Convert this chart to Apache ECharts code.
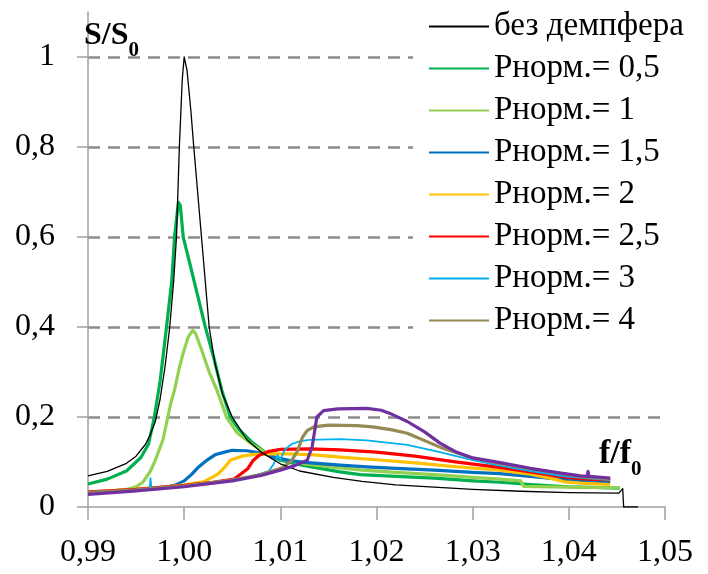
<!DOCTYPE html>
<html>
<head>
<meta charset="utf-8">
<script src="https://cdn.jsdelivr.net/npm/echarts@6/dist/echarts.min.js"></script>
<style>
html,body{margin:0;padding:0;background:#fff;}
#chart{width:708px;height:574px;}
</style>
</head>
<body>
<div id="chart"></div>
<script>
// ---- data ----
const xTicks = [0.99, 1.00, 1.01, 1.02, 1.03, 1.04, 1.05];
const xTickLabels = ['0,99', '1,00', '1,01', '1,02', '1,03', '1,04', '1,05'];
const yTicks = [0, 0.2, 0.4, 0.6, 0.8, 1];
const yTickLabels = ['0', '0,2', '0,4', '0,6', '0,8', '1'];

const seriesNames = ['без демпфера', 'Рнорм.= 0,5', 'Рнорм.= 1', 'Рнорм.= 1,5', 'Рнорм.= 2', 'Рнорм.= 2,5', 'Рнорм.= 3', 'Рнорм.= 4', 'Рнорм.= 5'];

const noDamper = [[0.990,0.069],[0.992,0.079],[0.994,0.097],[0.995,0.113],[0.996,0.14],[0.9965,0.162],[0.997,0.19],[0.9975,0.24],[0.998,0.31],[0.9985,0.40],[0.9989,0.50],[0.9992,0.60],[0.9995,0.80],[0.9998,0.95],[1.0000,1.0],[1.0003,0.97],[1.0007,0.88],[1.0010,0.80],[1.0014,0.70],[1.0018,0.60],[1.0022,0.50],[1.0026,0.40],[1.0032,0.32],[1.004,0.25],[1.005,0.20],[1.0065,0.15],[1.008,0.122],[1.010,0.096],[1.012,0.08],[1.0155,0.066],[1.0185,0.057],[1.022,0.049],[1.026,0.044],[1.030,0.039],[1.035,0.035],[1.040,0.032],[1.0452,0.031],[1.0456,0.041],[1.0457,0.0],[1.0472,0.0]];

const p05 = [[0.990,0.051],[0.992,0.062],[0.994,0.08],[0.9955,0.11],[0.9963,0.14],[0.9969,0.2],[0.9975,0.28],[0.998,0.37],[0.9987,0.50],[0.9990,0.60],[0.9994,0.677],[0.9996,0.67],[0.9999,0.60],[1.0006,0.54],[1.0014,0.47],[1.0022,0.40],[1.0031,0.33],[1.0039,0.26],[1.0048,0.20],[1.0058,0.17],[1.007,0.145],[1.0085,0.12],[1.010,0.104],[1.0125,0.092],[1.0162,0.078],[1.0183,0.072],[1.022,0.068],[1.026,0.064],[1.030,0.058],[1.0328,0.055],[1.036,0.05],[1.040,0.045],[1.0453,0.042]];

const p1 = [[0.990,0.033],[0.992,0.035],[0.994,0.039],[0.995,0.045],[0.9957,0.055],[0.9965,0.08],[0.997,0.104],[0.9978,0.15],[0.9982,0.19],[0.9986,0.23],[0.9990,0.26],[0.9995,0.31],[0.9999,0.342],[1.0004,0.377],[1.0009,0.393],[1.0012,0.385],[1.0018,0.35],[1.0026,0.30],[1.0034,0.26],[1.0044,0.20],[1.0055,0.165],[1.007,0.14],[1.0085,0.12],[1.010,0.107],[1.0125,0.096],[1.0162,0.087],[1.0185,0.082],[1.022,0.077],[1.026,0.072],[1.030,0.066],[1.0328,0.062],[1.0350,0.058],[1.0353,0.046],[1.040,0.044],[1.0453,0.043]];

const p15 = [[0.990,0.033],[0.993,0.036],[0.996,0.040],[0.998,0.044],[0.999,0.048],[1.0,0.058],[1.0008,0.073],[1.0015,0.089],[1.0023,0.103],[1.0032,0.116],[1.0042,0.122],[1.005,0.126],[1.0065,0.125],[1.008,0.12],[1.0095,0.11],[1.011,0.103],[1.0125,0.099],[1.0162,0.093],[1.019,0.089],[1.022,0.086],[1.026,0.082],[1.030,0.077],[1.0328,0.074],[1.036,0.068],[1.039,0.062],[1.0412,0.059],[1.0443,0.055]];

const p2 = [[0.990,0.033],[0.994,0.038],[0.998,0.044],[1.0,0.049],[1.002,0.056],[1.003,0.067],[1.0035,0.073],[1.0042,0.088],[1.0048,0.104],[1.006,0.113],[1.0073,0.117],[1.009,0.118],[1.011,0.118],[1.0135,0.116],[1.0162,0.111],[1.020,0.105],[1.024,0.098],[1.028,0.09],[1.0328,0.082],[1.036,0.073],[1.0385,0.062],[1.0395,0.056],[1.0412,0.053],[1.0443,0.05]];

const p25 = [[0.990,0.033],[0.995,0.039],[1.0,0.048],[1.003,0.055],[1.0052,0.062],[1.006,0.075],[1.0066,0.085],[1.0072,0.104],[1.0078,0.115],[1.0087,0.123],[1.010,0.128],[1.013,0.129],[1.0162,0.127],[1.020,0.122],[1.024,0.113],[1.028,0.101],[1.0328,0.088],[1.036,0.078],[1.039,0.068],[1.0412,0.063],[1.0443,0.06]];

const p3 = [[0.990,0.033],[0.993,0.036],[0.9964,0.039],[0.9965,0.064],[0.9966,0.039],[1.0,0.047],[1.004,0.057],[1.007,0.068],[1.0088,0.08],[1.0093,0.095],[1.0097,0.115],[1.0100,0.106],[1.0105,0.128],[1.0112,0.14],[1.012,0.146],[1.013,0.149],[1.0162,0.151],[1.019,0.148],[1.0232,0.138],[1.0266,0.122],[1.030,0.104],[1.0328,0.092],[1.036,0.08],[1.039,0.07],[1.0412,0.065],[1.0443,0.06]];

const p4 = [[0.990,0.032],[0.995,0.038],[1.0,0.047],[1.005,0.06],[1.008,0.072],[1.0103,0.088],[1.0112,0.104],[1.0118,0.125],[1.0123,0.155],[1.0128,0.17],[1.0135,0.178],[1.015,0.182],[1.018,0.181],[1.0196,0.178],[1.0215,0.172],[1.0232,0.164],[1.0266,0.133],[1.030,0.109],[1.0328,0.097],[1.036,0.085],[1.039,0.075],[1.0412,0.068],[1.0443,0.062]];

const p5 = [[0.990,0.028],[0.995,0.036],[1.0,0.045],[1.005,0.058],[1.008,0.07],[1.010,0.082],[1.0115,0.092],[1.0128,0.104],[1.0133,0.133],[1.0138,0.2],[1.0145,0.214],[1.016,0.218],[1.019,0.219],[1.0205,0.215],[1.0214,0.208],[1.0232,0.19],[1.025,0.167],[1.0266,0.142],[1.0283,0.122],[1.030,0.109],[1.033,0.098],[1.036,0.086],[1.039,0.076],[1.0412,0.069],[1.0419,0.068],[1.0420,0.079],[1.0421,0.068],[1.0443,0.064]];

const seriesData = [noDamper, p05, p1, p15, p2, p25, p3, p4, p5];
const seriesColors = ['#000000', '#00b050', '#92d050', '#0070c0', '#ffc000', '#ff0000', '#00b0f0', '#948a54', '#7030a0'];
const seriesWidths = [1.3, 3.2, 3.2, 3.2, 3.2, 3.2, 1.8, 3.2, 3.2];

// ---- chart ----
const chart = echarts.init(document.getElementById('chart'));
const FONT = 'Liberation Serif';
const axisGray = '#a0a0a0';

const series = seriesData.map((d, i) => ({
  name: seriesNames[i],
  type: 'line',
  data: d,
  symbol: 'none',
  showSymbol: false,
  smooth: false,
  color: seriesColors[i],
  lineStyle: {color: seriesColors[i], width: seriesWidths[i], join: 'round'},
  z: i === 0 ? 10 : 2 + i,
  animation: false
}));

chart.setOption({
  animation: false,
  backgroundColor: '#fff',
  textStyle: {fontFamily: FONT},
  grid: {left: 88, right: 43, top: 12, bottom: 67},
  title: [
    {
      text: 'S/S{sub|0}',
      left: 84, top: 20,
      padding: 0,
      textStyle: {
        fontFamily: FONT, fontWeight: 'bold', fontSize: 32, color: '#000',
        rich: {sub: {fontFamily: FONT, fontWeight: 'bold', fontSize: 21, color: '#000', verticalAlign: 'bottom', padding: [0, 0, -9, 0]}}
      }
    },
    {
      text: 'f/f{sub|0}',
      left: 599, top: 437,
      padding: 0,
      textStyle: {
        fontFamily: FONT, fontWeight: 'bold', fontSize: 34, color: '#000',
        rich: {sub: {fontFamily: FONT, fontWeight: 'bold', fontSize: 21, color: '#000', verticalAlign: 'bottom', padding: [0, 0, -9, 0]}}
      }
    }
  ],
  legend: {
    data: seriesNames.slice(0, 8),
    orient: 'vertical',
    left: 413, top: 0,
    padding: [10, 10, 10, 15],
    backgroundColor: '#fff',
    itemWidth: 60, itemHeight: 14, itemGap: 9,
    selectedMode: false,
    itemStyle: {opacity: 0},
    textStyle: {fontFamily: FONT, fontSize: 33, color: '#000', lineHeight: 33},
    z: 20
  },
  xAxis: {
    type: 'value',
    min: 0.99, max: 1.05, interval: 0.01,
    axisLine: {show: true, lineStyle: {color: axisGray, width: 1.5}},
    axisTick: {show: true, inside: false, length: 13, customValues: xTicks, lineStyle: {color: axisGray, width: 1.5}},
    axisLabel: {
      customValues: xTicks,
      margin: 30,
      fontFamily: FONT, fontSize: 32, color: '#000',
      formatter: (v) => { const i = xTicks.findIndex(t => Math.abs(t - v) < 1e-6); return i >= 0 ? xTickLabels[i] : ''; }
    },
    splitLine: {show: false}
  },
  yAxis: {
    type: 'value',
    min: 0, max: 1.1,
    axisLine: {show: true, lineStyle: {color: axisGray, width: 1.5}},
    axisTick: {show: true, inside: false, length: 11, customValues: yTicks, lineStyle: {color: axisGray, width: 1.5}},
    axisLabel: {
      customValues: yTicks,
      margin: 33,
      fontFamily: FONT, fontSize: 32, color: '#000',
      formatter: (v) => { const i = yTicks.findIndex(t => Math.abs(t - v) < 1e-6); return i >= 0 ? yTickLabels[i] : ''; }
    },
    splitLine: {show: true, showMinLine: false, lineStyle: {color: '#8c8c8c', width: 2.6, type: [12, 8]}}
  },
  series: series
});
</script>
</body>
</html>
